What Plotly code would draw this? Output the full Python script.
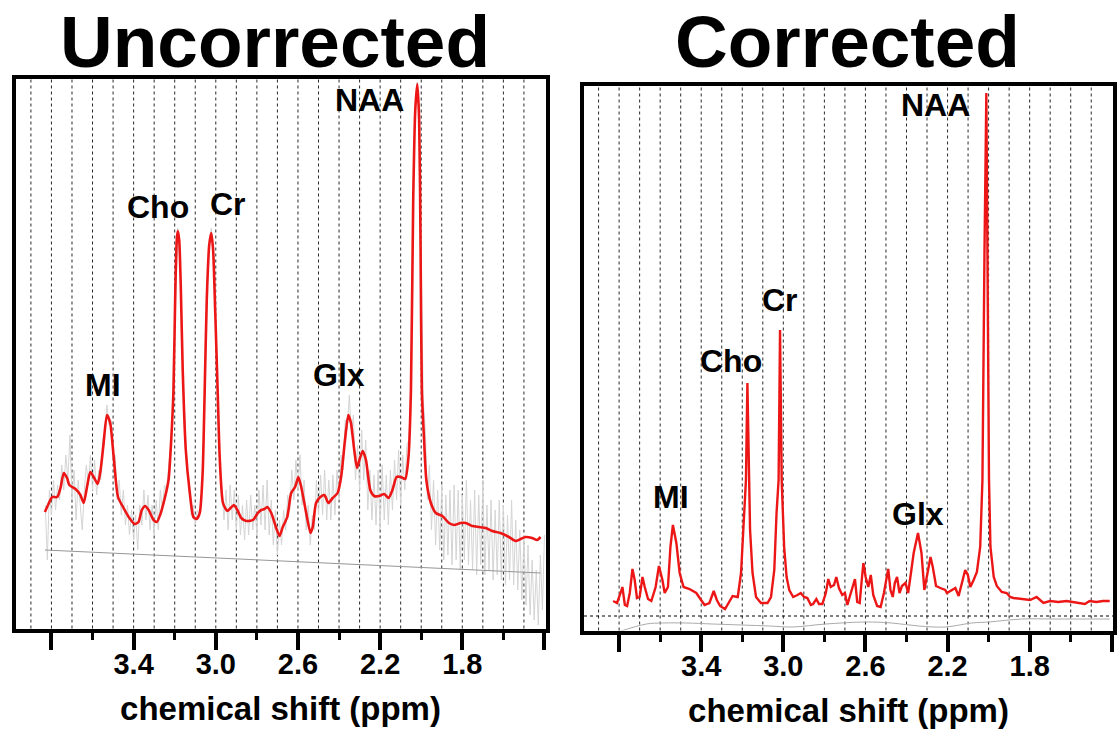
import plotly.graph_objects as go

FONT = "Liberation Sans, Arial, Helvetica, sans-serif"
W, H = 1117, 732

# ---------------- data (ppm, intensity in arbitrary units) ----------------
UNC_FIT = [
    (3.832,118),(3.810,128),(3.797,133),(3.772,133),(3.756,142),(3.740,157),(3.724,152),(3.713,145),
    (3.683,141),(3.659,135),(3.643,127),(3.627,143),(3.611,158),(3.594,153),(3.575,146),(3.562,158),
    (3.546,187),(3.530,215),(3.514,207),(3.497,173),(3.476,133),(3.449,122),(3.424,113),(3.395,106),
    (3.376,108),(3.360,120),(3.344,124),(3.327,120),(3.303,110),(3.287,108),(3.271,115),(3.247,133),
    (3.230,150),(3.217,190),(3.206,240),(3.197,340),(3.190,390),(3.185,399),(3.178,390),(3.170,340),
    (3.161,260),(3.146,180),(3.127,138),(3.109,113),(3.093,111),(3.078,117),(3.064,157),(3.054,240),
    (3.044,330),(3.032,385),(3.022,397),(3.013,380),(3.003,320),(2.991,240),(2.981,173),(2.965,127),
    (2.944,119),(2.928,122),(2.912,125),(2.895,120),(2.876,112),(2.851,109),(2.819,110),(2.795,117),
    (2.779,120),(2.763,121),(2.750,123),(2.730,117),(2.706,102),(2.690,94),(2.674,103),(2.652,113),
    (2.633,137),(2.614,143),(2.598,153),(2.584,143),(2.560,117),(2.539,97),(2.528,103),(2.512,127),
    (2.491,133),(2.471,135),(2.452,127),(2.431,132),(2.407,137),(2.390,153),(2.371,190),(2.355,215),
    (2.342,207),(2.326,180),(2.313,162),(2.301,170),(2.285,179),(2.269,170),(2.248,140),(2.229,134),
    (2.204,134),(2.180,136),(2.159,132),(2.140,140),(2.120,153),(2.099,153),(2.078,151),(2.062,173),
    (2.050,240),(2.039,430),(2.029,520),(2.019,546),(2.010,510),(2.003,380),(1.997,240),(1.986,190),
    (1.975,150),(1.953,127),(1.929,117),(1.897,114),(1.865,107),(1.840,105),(1.808,107),(1.783,107),
    (1.751,104),(1.719,103),(1.686,102),(1.654,99),(1.614,97),(1.573,93),(1.541,89),(1.516,91),
    (1.492,93),(1.460,92),(1.436,90),(1.419,93),
]

UNC_RAW = [
    (3.83,125),(3.82,70),(3.81,140),(3.80,115),(3.79,150),(3.78,120),(3.77,145),(3.76,130),(3.75,165),
    (3.74,140),(3.73,175),(3.72,150),(3.71,195),(3.70,130),(3.69,160),(3.68,110),(3.67,150),(3.66,125),
    (3.65,100),(3.64,140),(3.63,165),(3.62,145),(3.61,175),(3.60,140),(3.59,170),(3.58,135),(3.57,160),
    (3.56,150),(3.55,190),(3.54,200),(3.53,225),(3.52,205),(3.51,210),(3.50,170),(3.49,175),(3.48,130),
    (3.47,150),(3.46,115),(3.45,140),(3.44,105),(3.43,125),(3.42,95),(3.41,120),(3.40,90),(3.39,115),
    (3.38,80),(3.37,125),(3.36,105),(3.35,140),(3.34,110),(3.33,135),(3.32,100),(3.31,125),(3.30,95),
    (3.29,130),(3.28,100),(3.27,140),(3.26,120),(3.25,145),(3.24,140),(3.23,160),(3.22,185),(3.21,225),
    (3.20,300),(3.19,385),(3.185,402),(3.18,388),(3.17,345),(3.16,255),(3.15,200),(3.14,160),(3.13,145),
    (3.12,115),(3.11,125),(3.10,105),(3.09,120),(3.08,115),(3.07,135),(3.06,180),(3.05,265),(3.04,345),
    (3.03,390),(3.022,402),(3.01,370),(3.00,310),(2.99,235),(2.98,165),(2.97,140),(2.96,110),(2.95,140),
    (2.94,100),(2.93,145),(2.92,110),(2.91,140),(2.90,100),(2.89,135),(2.88,95),(2.87,125),(2.86,90),
    (2.85,130),(2.84,95),(2.83,135),(2.82,100),(2.81,125),(2.80,95),(2.79,140),(2.78,105),(2.77,145),
    (2.76,100),(2.75,150),(2.74,95),(2.73,130),(2.72,85),(2.71,120),(2.70,75),(2.69,110),(2.68,85),
    (2.67,120),(2.66,100),(2.65,135),(2.64,120),(2.63,160),(2.62,130),(2.61,170),(2.60,140),(2.59,175),
    (2.58,125),(2.57,150),(2.56,100),(2.55,125),(2.54,85),(2.53,115),(2.52,100),(2.51,150),(2.50,115),
    (2.49,155),(2.48,115),(2.47,160),(2.46,110),(2.45,150),(2.44,110),(2.43,155),(2.42,115),(2.41,160),
    (2.40,130),(2.39,175),(2.38,160),(2.37,210),(2.36,200),(2.35,235),(2.34,195),(2.33,215),(2.32,150),
    (2.31,185),(2.30,140),(2.29,200),(2.28,150),(2.27,190),(2.26,120),(2.25,160),(2.24,110),(2.23,155),
    (2.22,105),(2.21,160),(2.20,100),(2.19,165),(2.18,110),(2.17,155),(2.16,105),(2.15,160),(2.14,120),
    (2.13,170),(2.12,130),(2.11,180),(2.10,125),(2.09,175),(2.08,140),(2.07,185),(2.06,190),(2.05,245),
    (2.04,430),(2.03,520),(2.02,548),(2.01,515),(2.00,380),(1.99,230),(1.98,200),(1.97,130),(1.96,165),
    (1.95,100),(1.94,150),(1.93,85),(1.92,140),(1.91,80),(1.90,145),(1.89,70),(1.88,135),(1.87,75),
    (1.86,140),(1.85,65),(1.84,145),(1.83,70),(1.82,140),(1.81,60),(1.80,135),(1.79,70),(1.78,150),
    (1.77,65),(1.76,130),(1.75,60),(1.74,140),(1.73,55),(1.72,135),(1.71,65),(1.70,150),(1.69,55),
    (1.68,125),(1.67,60),(1.66,130),(1.65,50),(1.64,120),(1.63,55),(1.62,130),(1.61,50),(1.60,125),
    (1.59,45),(1.58,115),(1.57,50),(1.56,130),(1.55,45),(1.54,110),(1.53,40),(1.52,100),(1.51,30),
    (1.50,95),(1.49,25),(1.48,85),(1.47,15),(1.46,70),(1.45,10),(1.44,60),(1.43,5),(1.42,75),(1.41,20),
    (1.40,95),
]

UNC_BASELINE = [(3.832, 80), (1.419, 57)]

COR_FIT = [
    (3.829,31),(3.810,29),(3.793,39),(3.784,45),(3.772,27),(3.761,26),(3.748,39),(3.735,63),(3.724,52),
    (3.713,34),(3.700,35),(3.686,55),(3.675,45),(3.659,33),(3.643,31),(3.622,45),(3.606,66),(3.589,52),
    (3.578,39),(3.562,45),(3.550,85),(3.538,107),(3.521,89),(3.505,59),(3.486,45),(3.457,43),(3.424,39),
    (3.405,33),(3.384,27),(3.360,29),(3.339,41),(3.324,32),(3.308,26),(3.284,23),(3.266,30),(3.247,36),
    (3.222,35),(3.206,59),(3.195,102),(3.182,152),(3.175,249),(3.168,152),(3.162,102),(3.150,59),
    (3.133,35),(3.109,29),(3.077,29),(3.060,35),(3.044,62),(3.033,119),(3.023,152),(3.016,302),
    (3.008,152),(2.996,85),(2.984,55),(2.971,42),(2.952,35),(2.931,37),(2.915,39),(2.899,35),(2.883,34),
    (2.866,27),(2.855,28),(2.839,33),(2.826,28),(2.810,28),(2.793,39),(2.781,53),(2.769,45),(2.753,47),
    (2.742,55),(2.729,44),(2.713,37),(2.700,39),(2.688,27),(2.677,35),(2.664,45),(2.651,53),(2.640,30),
    (2.628,29),(2.618,52),(2.610,69),(2.599,55),(2.586,45),(2.574,57),(2.562,37),(2.543,26),(2.526,25),
    (2.510,39),(2.499,52),(2.489,63),(2.478,42),(2.467,35),(2.457,49),(2.446,55),(2.434,39),(2.422,46),
    (2.405,49),(2.392,39),(2.381,55),(2.365,79),(2.344,99),(2.327,79),(2.313,42),(2.300,55),(2.283,75),
    (2.272,65),(2.256,46),(2.235,44),(2.211,42),(2.203,39),(2.179,42),(2.162,44),(2.146,36),(2.130,49),
    (2.114,62),(2.101,57),(2.089,45),(2.073,52),(2.057,60),(2.041,85),(2.030,152),(2.020,382),(2.011,539),
    (2.004,332),(1.998,152),(1.991,85),(1.975,55),(1.960,46),(1.936,40),(1.912,39),(1.895,35),(1.879,34),
    (1.839,33),(1.798,32),(1.766,35),(1.749,32),(1.733,29),(1.701,31),(1.661,30),(1.620,31),(1.596,30),
    (1.564,29),(1.531,28),(1.508,31),(1.475,30),(1.443,31),(1.410,31),
]

COR_BASELINE = [
    (3.806,0),(3.667,8),(3.588,9),(3.473,9),(3.345,8),(3.068,6),(2.957,5),(2.793,8),(2.599,10),
    (2.471,9),(2.340,6),(2.211,5),(2.082,9),(2.000,10),(1.839,13),(1.677,13),(1.410,13),
]
COR_DASH_LEVEL = 16

GRID_PPM = [3.9, 3.8, 3.7, 3.6, 3.5, 3.4, 3.3, 3.2, 3.1, 3.0, 2.9, 2.8, 2.7, 2.6, 2.5,
            2.4, 2.3, 2.2, 2.1, 2.0, 1.9, 1.8, 1.7, 1.6, 1.5]
MAJOR_TICKS = [3.8, 3.4, 3.0, 2.6, 2.2, 1.8, 1.4]
MAJOR_LABELS = ["", "3.4", "3.0", "2.6", "2.2", "1.8", ""]
MINOR_TICKS = [3.6, 3.2, 2.8, 2.4, 2.0, 1.6]

PANEL_TITLES = ["Uncorrected", "Corrected"]
UNC_PEAKS = ["NAA", "Cho", "Cr", "MI", "Glx"]
COR_PEAKS = ["NAA", "Cr", "Cho", "MI", "Glx"]

# ---------------- layout helpers (pixel -> paper) ----------------
def px(x):
    return x / W

def py(y):
    return 1 - y / H

RED = "rgb(236,22,22)"

def unzip(pairs):
    return [p[0] for p in pairs], [p[1] for p in pairs]

fig = go.Figure()

rx, ry = unzip(UNC_RAW)
fig.add_trace(go.Scatter(x=rx, y=ry, mode="lines", line=dict(color="rgb(212,212,212)", width=1),
                         xaxis="x", yaxis="y", hoverinfo="skip"))
bx, by = unzip(UNC_BASELINE)
fig.add_trace(go.Scatter(x=bx, y=by, mode="lines", line=dict(color="rgb(150,150,150)", width=1),
                         xaxis="x", yaxis="y"))
fx, fy = unzip(UNC_FIT)
fig.add_trace(go.Scatter(x=fx, y=fy, mode="lines", line=dict(color=RED, width=2.6, shape="spline", smoothing=0.6),
                         xaxis="x", yaxis="y"))

cbx, cby = unzip(COR_BASELINE)
fig.add_trace(go.Scatter(x=cbx, y=cby, mode="lines", line=dict(color="rgb(170,170,170)", width=1, shape="spline"),
                         xaxis="x2", yaxis="y2"))
cx, cy = unzip(COR_FIT)
fig.add_trace(go.Scatter(x=cx, y=cy, mode="lines", line=dict(color=RED, width=2.4),
                         xaxis="x2", yaxis="y2"))

def xaxis_cfg(domain, rng, anchor):
    return dict(
        domain=domain, range=rng, anchor=anchor,
        showline=True, mirror=True, linewidth=4, linecolor="black",
        showgrid=False, zeroline=False,
        ticks="outside", tickmode="array", tickvals=MAJOR_TICKS,
        ticktext=["<b>%s</b>" % t if t else "" for t in MAJOR_LABELS],
        ticklen=17, tickwidth=4, tickcolor="black",
        tickfont=dict(family=FONT, size=29, color="black"),
        ticklabelstandoff=-10,
        minor=dict(tickvals=MINOR_TICKS, ticks="outside", ticklen=7, tickwidth=3,
                   tickcolor="black", showgrid=False),
        title=dict(text="<b>chemical shift (ppm)</b>", font=dict(family=FONT, size=33, color="black"),
                   standoff=19),
    )

def yaxis_cfg(domain, rng, anchor):
    return dict(
        domain=domain, range=rng, anchor=anchor,
        showline=True, mirror=True, linewidth=4, linecolor="black",
        showgrid=False, zeroline=False, showticklabels=False, ticks="",
    )

shapes = []
for xr in ["x", "x2"]:
    yr = "y" if xr == "x" else "y2"
    for g in GRID_PPM:
        shapes.append(dict(type="line", xref=xr, x0=g, x1=g, yref=yr + " domain", y0=0, y1=1,
                           line=dict(color="rgb(40,40,40)", width=1, dash="dot"), layer="below"))
shapes.append(dict(type="line", xref="x2 domain", x0=0, x1=1, yref="y2", y0=COR_DASH_LEVEL, y1=COR_DASH_LEVEL,
                   line=dict(color="black", width=1, dash="dot"), layer="below"))

annotations = []
for name, (x, y) in zip(PANEL_TITLES, [(275, 41), (847, 41)]):
    annotations.append(dict(text="<b>%s</b>" % name, x=px(x), y=py(y), xref="paper", yref="paper",
                            xanchor="center", yanchor="middle", showarrow=False,
                            font=dict(family=FONT, size=73, color="black")))
unc_pos = [(369, 100), (158, 207), (228, 204), (103, 385), (339, 375)]
cor_pos = [(935, 105), (780, 300), (731, 361), (671, 497), (918, 514)]
for name, (x, y) in list(zip(UNC_PEAKS, unc_pos)) + list(zip(COR_PEAKS, cor_pos)):
    annotations.append(dict(text="<b>%s</b>" % name, x=px(x), y=py(y), xref="paper", yref="paper",
                            xanchor="center", yanchor="middle", showarrow=False,
                            font=dict(family=FONT, size=32, color="black")))

fig.update_layout(
    width=W, height=H, margin=dict(l=0, r=0, t=0, b=0),
    paper_bgcolor="white", plot_bgcolor="white", showlegend=False,
    xaxis=xaxis_cfg([px(15.5), px(545.5)], [3.975, 1.395], "y"),
    yaxis=yaxis_cfg([py(628.5), py(79)], [1.5, 551], "x"),
    xaxis2=xaxis_cfg([px(584), px(1113)], [3.971, 1.394], "y2"),
    yaxis2=yaxis_cfg([py(630.5), py(86)], [1.5, 546], "x2"),
    shapes=shapes, annotations=annotations,
)

fig.write_html("out.html")
